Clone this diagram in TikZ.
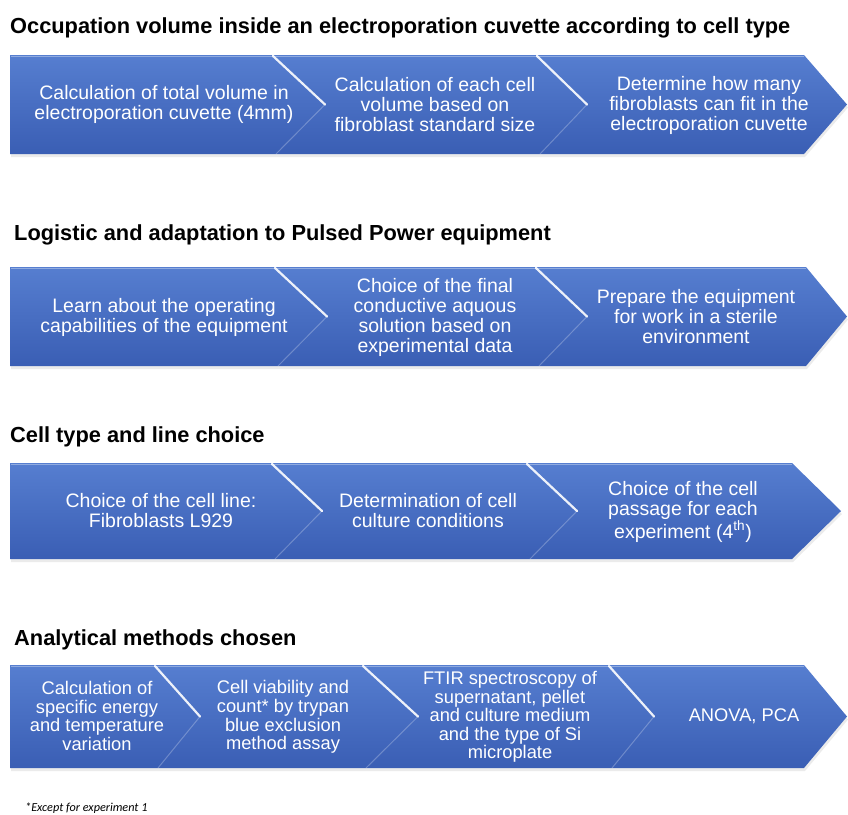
\documentclass[tikz,border=0pt]{standalone}
\usepackage{fontspec}
\setmainfont{Liberation Sans}
\newfontfamily\notefont{Carlito}
\definecolor{bandtop}{RGB}{86,126,208}
\definecolor{bandbot}{RGB}{58,94,180}
\tikzset{
  celltext/.style={text=white, font=\fontsize{19.5}{20}\selectfont, align=center, inner sep=0pt},
  smalltext/.style={celltext, font=\fontsize{18.3}{18.6}\selectfont},
  heading/.style={anchor=base west, font=\bfseries\fontsize{21.8}{24}\selectfont, inner sep=0pt},
  sepbright/.style={white, opacity=0.9, line width=2.2pt, line cap=round},
  sepfaint/.style={white, opacity=0.25, line width=1pt},
  tophi/.style={white, opacity=0.35, line width=1.6pt},
}
% #1 top, #2 bottom, #3 body end, #4 tip
\newcommand\chevband[4]{%
  \fill[black, opacity=0.08] (11,#1+3) -- (#3+1,#1+3) -- (#4+1,{(#1+#2)/2+3}) -- (#3+1,#2+3) -- (11,#2+3) -- cycle;
  \shade[top color=bandtop, bottom color=bandbot] (10,#1) -- (#3,#1) -- (#4,{(#1+#2)/2}) -- (#3,#2) -- (10,#2) -- cycle;
  \draw[tophi] (11,#1+1.5) -- (#3,#1+1.5);
}
% #1 top y, #2 bottom y, #3 notch x, #4 tip x
\newcommand\chevsep[4]{%
  \draw[sepbright] (#3,#1+1) -- (#4,{(#1+#2)/2});
  \draw[sepfaint] (#4,{(#1+#2)/2}) -- (#3+3,#2);
}
\begin{document}
\begin{tikzpicture}[x=1pt,y=-1pt]
\useasboundingbox[fill=white] (0,0) rectangle (848,814);

% Row 1
\node[heading] (h1) at (10,33) {Occupation volume inside an electroporation cuvette according to cell type};
\chevband{55}{154}{804}{847}
\chevsep{55}{154}{273}{325}
\chevsep{55}{154}{537}{587}
\node[celltext] (a1) at (164,104) {Calculation of total volume in\\electroporation cuvette (4mm)};
\node[celltext] (a2) at (435,105) {Calculation of each cell\\volume based on\\fibroblast standard size};
\node[celltext] (a3) at (709,105) {Determine how many\\fibroblasts can fit in the\\electroporation cuvette};

% Row 2
\node[heading] (h2) at (14,240) {Logistic and adaptation to Pulsed Power equipment};
\chevband{267}{366}{806}{847}
\chevsep{267}{366}{275}{327}
\chevsep{267}{366}{536}{587}
\node[celltext] (b1) at (164,317) {Learn about the operating\\capabilities of the equipment};
\node[celltext] (b2) at (435,317) {Choice of the final\\conductive aquous\\solution based on\\experimental data};
\node[celltext] (b3) at (696,317) {Prepare the equipment\\for work in a sterile\\environment};

% Row 3
\node[heading] (h3) at (10,442) {Cell type and line choice};
\chevband{463}{559}{792}{841}
\chevsep{463}{559}{272}{322}
\chevsep{463}{559}{527}{577}
\node[celltext] (c1) at (161,511) {Choice of the cell line:\\Fibroblasts L929};
\node[celltext] (c2) at (428,511) {Determination of cell\\culture conditions};
\node[celltext] (c3) at (683,512) {Choice of the cell\\passage for each\\experiment (4\textsuperscript{th})};

% Row 4
\node[heading] (h4) at (14,645) {Analytical methods chosen};
\chevband{665}{768}{804}{847}
\chevsep{665}{768}{155}{200}
\chevsep{665}{768}{363}{418}
\chevsep{665}{768}{609}{654}
\node[smalltext] (d1) at (97,716) {Calculation of\\specific energy\\and temperature\\variation};
\node[smalltext] (d2) at (283,717) {Cell viability and\\count* by trypan\\blue exclusion\\method assay};
\node[smalltext] (d3) at (510,717) {FTIR spectroscopy of\\supernatant, pellet\\and culture medium\\and the type of Si\\microplate};
\node[smalltext] (d4) at (744,716) {ANOVA, PCA};

% Footnote
\node[anchor=base west, inner sep=0pt, font=\notefont\itshape\fontsize{12.2}{14}\selectfont] (fn) at (25,811) {*Except for experiment 1};
\end{tikzpicture}
\end{document}
